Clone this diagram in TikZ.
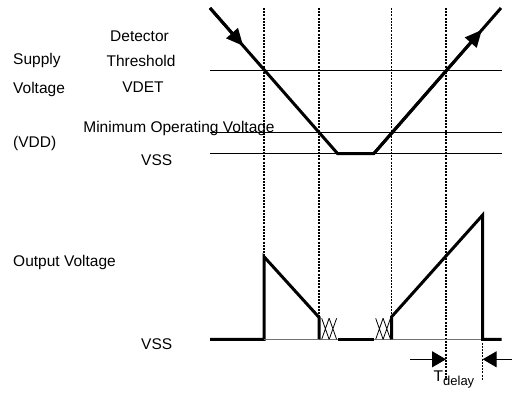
\documentclass[tikz,border=0pt]{standalone}
\usepackage{fontspec}
\setmainfont{Liberation Sans}
\usetikzlibrary{arrows.meta,calc}
\tikzset{
  lbl/.style={inner sep=0pt,font=\fontsize{15.5}{18}\selectfont},
  level/.style={line width=1.3pt},
  wave/.style={line width=3pt},
  grid/.style={line width=1.5pt,dash pattern=on 2pt off 1.2pt},
  hatch/.style={line width=0.8pt},
  idle/.style={line width=1.3pt,black!55},
  head/.style={-{Triangle[length=17pt,width=15pt]}},
  delayarrow/.style={line width=1.3pt,-{Triangle[length=14pt,width=16pt]}}
}
\begin{document}
\begin{tikzpicture}[x=1pt,y=-1pt]
\useasboundingbox (0,0) rectangle (512,399);

\node[lbl,anchor=base west] (supply) at (13,64) {Supply};
\node[lbl,anchor=base west] (voltage) at (13,93) {Voltage};
\node[lbl,anchor=base west] (vdd) at (13,147) {(VDD)};
\node[lbl,anchor=base] (detector) at (139.5,41) {Detector};
\node[lbl,anchor=base] (threshold) at (141,66) {Threshold};
\node[lbl,anchor=base] (vdet) at (143,92) {VDET};
\node[lbl,anchor=base] (minop) at (179,132) {Minimum Operating Voltage};
\node[lbl,anchor=base] (vsstop) at (156.7,165) {VSS};
\node[lbl,anchor=base west] (outv) at (13,266.7) {Output Voltage};
\node[lbl,anchor=base] (vssbot) at (156.7,349.3) {VSS};
\node[lbl,anchor=base west] (tdelay) at (433.5,381.7) {T\raisebox{-3.5pt}{\fontsize{13}{14}\selectfont delay}};

\coordinate (det w) at (210,70.7);
\coordinate (det e) at (501.7,70.7);
\coordinate (min w) at (210,132.7);
\coordinate (min e) at (501.7,132.7);
\coordinate (vss w) at (210,153.7);
\coordinate (vss e) at (501.7,153.7);
\draw[level] (det w) -- (det e);
\draw[level] (min w) -- (min e);
\draw[level] (vss w) -- (vss e);

\coordinate (in0) at (210,8);
\coordinate (in1) at (337.7,153.7);
\coordinate (in2) at (373.7,153.7);
\coordinate (in3) at (501,8);

\coordinate (o0) at (210,339.3);
\coordinate (r1) at (264,339.3);
\coordinate (r1t) at (264,256.7);
\coordinate (f1t) at (319,317.3);
\coordinate (f1) at (319,339.3);
\coordinate (x1) at (337.7,339.3);
\coordinate (x2) at (373.7,339.3);
\coordinate (r2) at (391.7,339.3);
\coordinate (r2t) at (391.7,316.7);
\coordinate (f2t) at (482.7,215);
\coordinate (f2) at (482.7,339.3);
\coordinate (o1) at (501.7,339.3);

\coordinate (g1) at (264,8);
\coordinate (g2) at (319,8);
\coordinate (g3) at (391.7,8);
\coordinate (g4) at (446,8);
\coordinate (d1) at (446,380);
\coordinate (d2) at (482.7,380);
\draw[grid] (g1) -- (r1t);
\draw[grid] (g2) -- (f1t);
\draw[grid] (g3) -- (r2t);
\draw[grid] (g4) -- (d1);
\draw[grid] (f2) -- (d2);

\draw[wave] (in0) -- (in1) -- (in2) -- (in3);
\draw[wave,head] (in0) -- ($(in0)!0.26!(in1)$);
\draw[wave,head] (in2) -- ($(in2)!0.85!(in3)$);

\draw[idle] (f1) -- (x1);
\draw[idle] (x2) -- (r2);
\draw[idle] (r2) -- (f2);
\draw[wave] (o0) -- (r1) -- (r1t) -- (f1t) -- (f1);
\draw[wave] (x1) -- (x2);
\draw[wave] (r2) -- (r2t) -- (f2t) -- (f2) -- (o1);
\draw[idle] (r1) -- (f1);

\foreach \x in {321.7,329.2,375.7,383.1}
  \draw[hatch] (\x,318.3) -- (\x+7.4,339.3) (\x,339.3) -- (\x+7.4,318.3);

\coordinate (a1) at (410,359.3);
\coordinate (a1tip) at (446,359.3);
\coordinate (a2) at (512,359.3);
\coordinate (a2tip) at (482.7,359.3);
\draw[delayarrow] (a1) -- (a1tip);
\draw[delayarrow] (a2) -- (a2tip);
\end{tikzpicture}
\end{document}
